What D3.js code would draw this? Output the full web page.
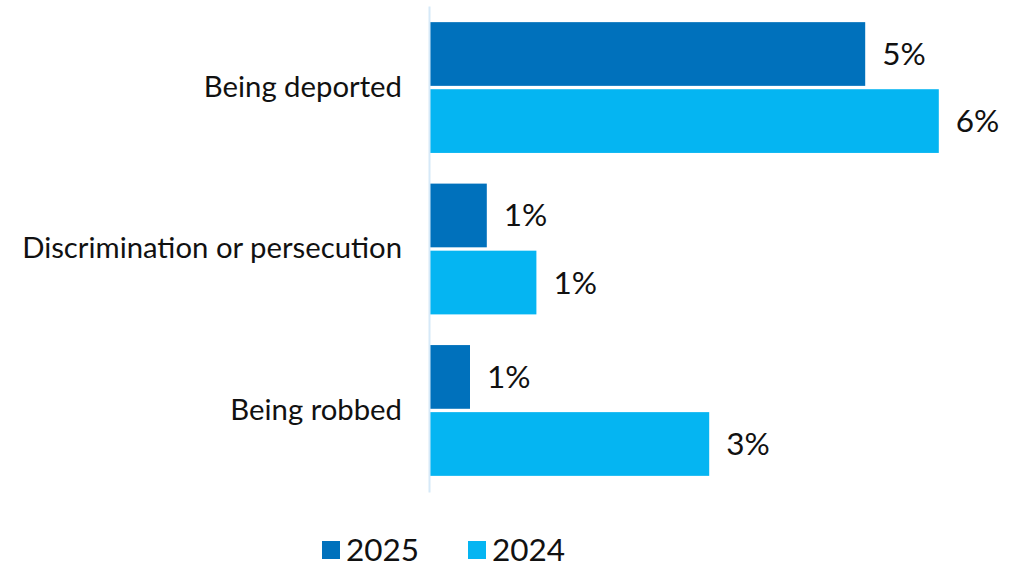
<!DOCTYPE html>
<html><head><meta charset="utf-8">
<script src="https://cdn.jsdelivr.net/npm/d3@7"></script>
<style>body{margin:0;background:#fff}svg{display:block;font-family:Lato,sans-serif}</style>
</head><body><svg id="c" width="1019" height="563"></svg>
<script>
const categories = ["Being deported", "Discrimination or persecution", "Being robbed"];
const seriesNames = ["2025", "2024"];
const values2025 = [5.44, 0.71, 0.50];
const values2024 = [6.36, 1.33, 3.49];
const labels2025 = ["5%", "1%", "1%"];
const labels2024 = ["6%", "1%", "3%"];
const colors = ["#0071bc", "#05b5f2"];

const svg = d3.select("#c");
const x = d3.scaleLinear().domain([0, 7]).range([430, 990]);
const y = d3.scaleBand().domain(categories).range([6, 492]).paddingInner(0.19).paddingOuter(0.1);
const ySub = d3.scaleBand().domain(seriesNames).range([0, y.bandwidth()]).paddingInner(0.05);

const data = categories.map((c, i) => ({c, vals: [
  {s: "2025", v: values2025[i], l: labels2025[i]},
  {s: "2024", v: values2024[i], l: labels2024[i]}]}));

const g = svg.selectAll("g.cat").data(data).join("g").attr("class","cat")
  .attr("transform", d => `translate(0,${y(d.c)})`);
g.selectAll("rect").data(d => d.vals).join("rect")
  .attr("x", x(0)).attr("y", d => ySub(d.s))
  .attr("width", d => x(d.v) - x(0)).attr("height", ySub.bandwidth())
  .attr("fill", (d, i) => colors[i]);
g.selectAll("text.val").data(d => d.vals).join("text").attr("class","val")
  .attr("x", d => x(d.v) + 17).attr("y", d => ySub(d.s) + ySub.bandwidth()/2)
  .attr("dy", "0.35em").attr("font-size", 31.5).attr("fill", "#111").text(d => d.l);

// axis
const yAxis = d3.axisLeft(y).tickSize(0).tickPadding(27);
const ax = svg.append("g").attr("transform", "translate(429,0)").call(yAxis);
ax.select(".domain").attr("stroke", "#d6e9f8").attr("stroke-width", 2);
ax.selectAll("text").attr("font-size", 29.3).attr("fill", "#111").attr("font-family", "Lato, sans-serif");

// legend
const legend = svg.append("g").attr("transform", "translate(322,541)");
const li = legend.selectAll("g").data(seriesNames).join("g")
  .attr("transform", (d, i) => `translate(${i * 146},0)`);
li.append("rect").attr("width", 18).attr("height", 18).attr("fill", (d, i) => colors[i]);
li.append("text").attr("x", 24).attr("y", 9).attr("dy", "0.35em").attr("font-size", 31.5).attr("fill", "#111").text(d => d);
</script></body></html>
